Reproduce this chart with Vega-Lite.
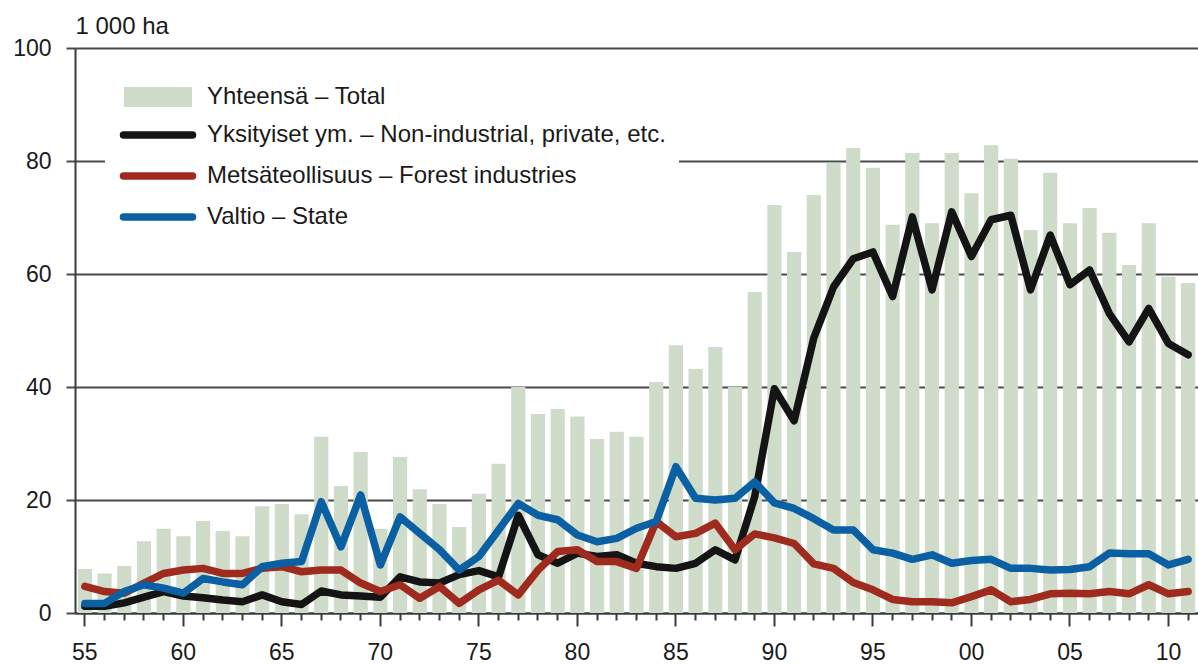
{
  "$schema": "https://vega.github.io/schema/vega-lite/v6.json",
  "width": 1123,
  "height": 565,
  "autosize": {"type": "none"},
  "padding": {"left": 75, "top": 48, "right": 0, "bottom": 53},
  "background": "white",
  "config": {
    "view": {"stroke": null},
    "font": "Liberation Sans"
  },
  "data": {
    "values": [
      {"year": 1955, "total": 7.8, "private": 1.2, "forest": 4.7, "state": 1.7},
      {"year": 1956, "total": 7.0, "private": 1.2, "forest": 3.8, "state": 1.7},
      {"year": 1957, "total": 8.3, "private": 1.8, "forest": 3.5, "state": 3.8},
      {"year": 1958, "total": 12.7, "private": 2.8, "forest": 5.3, "state": 5.0},
      {"year": 1959, "total": 14.9, "private": 3.8, "forest": 7.0, "state": 4.4},
      {"year": 1960, "total": 13.6, "private": 3.0, "forest": 7.6, "state": 3.5},
      {"year": 1961, "total": 16.3, "private": 2.7, "forest": 7.9, "state": 6.1},
      {"year": 1962, "total": 14.5, "private": 2.3, "forest": 7.0, "state": 5.5},
      {"year": 1963, "total": 13.6, "private": 2.0, "forest": 7.0, "state": 5.0},
      {"year": 1964, "total": 18.9, "private": 3.2, "forest": 7.9, "state": 8.2},
      {"year": 1965, "total": 19.3, "private": 2.0, "forest": 8.2, "state": 8.8},
      {"year": 1966, "total": 17.5, "private": 1.5, "forest": 7.3, "state": 9.1},
      {"year": 1967, "total": 31.2, "private": 3.9, "forest": 7.6, "state": 19.7},
      {"year": 1968, "total": 22.5, "private": 3.2, "forest": 7.6, "state": 11.7},
      {"year": 1969, "total": 28.5, "private": 3.0, "forest": 5.3, "state": 20.9},
      {"year": 1970, "total": 14.9, "private": 2.8, "forest": 3.8, "state": 8.5},
      {"year": 1971, "total": 27.6, "private": 6.4, "forest": 5.0, "state": 17.0},
      {"year": 1972, "total": 21.9, "private": 5.5, "forest": 2.6, "state": 14.1},
      {"year": 1973, "total": 19.3, "private": 5.3, "forest": 4.7, "state": 11.2},
      {"year": 1974, "total": 15.2, "private": 6.8, "forest": 1.7, "state": 7.6},
      {"year": 1975, "total": 21.1, "private": 7.5, "forest": 4.1, "state": 10.0},
      {"year": 1976, "total": 26.4, "private": 6.4, "forest": 5.8, "state": 14.7},
      {"year": 1977, "total": 40.0, "private": 17.3, "forest": 3.2, "state": 19.4},
      {"year": 1978, "total": 35.2, "private": 10.3, "forest": 7.6, "state": 17.3},
      {"year": 1979, "total": 36.1, "private": 8.8, "forest": 10.9, "state": 16.5},
      {"year": 1980, "total": 34.8, "private": 10.6, "forest": 11.2, "state": 13.8},
      {"year": 1981, "total": 30.8, "private": 10.0, "forest": 9.1, "state": 12.6},
      {"year": 1982, "total": 32.1, "private": 10.3, "forest": 9.1, "state": 13.2},
      {"year": 1983, "total": 31.2, "private": 8.8, "forest": 7.9, "state": 15.0},
      {"year": 1984, "total": 40.9, "private": 8.2, "forest": 16.2, "state": 16.2},
      {"year": 1985, "total": 47.4, "private": 7.9, "forest": 13.5, "state": 25.9},
      {"year": 1986, "total": 43.2, "private": 8.8, "forest": 14.1, "state": 20.3},
      {"year": 1987, "total": 47.1, "private": 11.2, "forest": 15.9, "state": 20.0},
      {"year": 1988, "total": 40.0, "private": 9.4, "forest": 11.2, "state": 20.3},
      {"year": 1989, "total": 56.8, "private": 20.6, "forest": 14.0, "state": 23.2},
      {"year": 1990, "total": 72.2, "private": 39.7, "forest": 13.3, "state": 19.5},
      {"year": 1991, "total": 63.9, "private": 34.0, "forest": 12.3, "state": 18.5},
      {"year": 1992, "total": 74.0, "private": 48.7, "forest": 8.7, "state": 16.7},
      {"year": 1993, "total": 79.7, "private": 57.7, "forest": 7.9, "state": 14.7},
      {"year": 1994, "total": 82.3, "private": 62.7, "forest": 5.4, "state": 14.7},
      {"year": 1995, "total": 78.8, "private": 63.9, "forest": 4.1, "state": 11.2},
      {"year": 1996, "total": 68.7, "private": 56.0, "forest": 2.4, "state": 10.6},
      {"year": 1997, "total": 81.4, "private": 70.1, "forest": 2.0, "state": 9.5},
      {"year": 1998, "total": 69.0, "private": 57.2, "forest": 2.0, "state": 10.3},
      {"year": 1999, "total": 81.4, "private": 71.0, "forest": 1.8, "state": 8.8},
      {"year": 2000, "total": 74.3, "private": 63.1, "forest": 2.9, "state": 9.3},
      {"year": 2001, "total": 82.8, "private": 69.6, "forest": 4.1, "state": 9.5},
      {"year": 2002, "total": 80.4, "private": 70.4, "forest": 2.0, "state": 7.9},
      {"year": 2003, "total": 67.8, "private": 57.2, "forest": 2.4, "state": 7.9},
      {"year": 2004, "total": 77.9, "private": 66.9, "forest": 3.4, "state": 7.6},
      {"year": 2005, "total": 69.0, "private": 58.1, "forest": 3.5, "state": 7.7},
      {"year": 2006, "total": 71.7, "private": 60.7, "forest": 3.4, "state": 8.2},
      {"year": 2007, "total": 67.3, "private": 53.0, "forest": 3.8, "state": 10.6},
      {"year": 2008, "total": 61.6, "private": 48.0, "forest": 3.4, "state": 10.5},
      {"year": 2009, "total": 69.0, "private": 53.9, "forest": 5.0, "state": 10.5},
      {"year": 2010, "total": 59.5, "private": 47.7, "forest": 3.4, "state": 8.5},
      {"year": 2011, "total": 58.4, "private": 45.7, "forest": 3.8, "state": 9.5}
    ]
  },
  "encoding": {
    "x": {
      "field": "year",
      "type": "ordinal",
      "scale": {"type": "band", "paddingInner": 0.28, "paddingOuter": 0.14},
      "axis": {
        "title": null,
        "domainColor": "#3a3a3a",
        "domainWidth": 2,
        "tickColor": "#3a3a3a",
        "tickWidth": 2,
        "tickSize": {"condition": {"test": "datum.value % 5 == 0", "value": 13}, "value": 7},
        "labelExpr": "datum.value % 5 == 0 ? substring('' + datum.value, 2, 4) : ''",
        "labelOverlap": false,
        "labelAngle": 0,
        "labelFont": "Liberation Sans",
        "labelFontSize": 23,
        "labelColor": "#1a1a1a",
        "labelPadding": 15,
        "labelBaseline": "top"
      }
    },
    "y": {
      "type": "quantitative",
      "scale": {"domain": [0, 100], "nice": false},
      "axis": {
        "title": "1 000 ha",
        "titleAngle": 0,
        "titleAlign": "left",
        "titleBaseline": "alphabetic",
        "titleX": 0,
        "titleY": -15,
        "titleFont": "Liberation Sans",
        "titleFontSize": 24,
        "titleFontWeight": "normal",
        "titleColor": "#1a1a1a",
        "values": [0, 20, 40, 60, 80, 100],
        "grid": true,
        "gridColor": "#4a4a4a",
        "gridWidth": 2,
        "domainColor": "#3a3a3a",
        "domainWidth": 2,
        "tickColor": "#4a4a4a",
        "tickWidth": 2,
        "tickSize": 9,
        "labelFont": "Liberation Sans",
        "labelFontSize": 23,
        "labelColor": "#1a1a1a",
        "labelPadding": 15
      }
    },
    "color": {
      "field": "series",
      "type": "nominal",
      "scale": {
        "domain": ["total", "private", "forest", "state"],
        "range": ["#cfdcca", "#141414", "#9e2b1e", "#0b5fa3"]
      },
      "legend": {
        "orient": "none",
        "legendX": 30,
        "legendY": 24,
        "direction": "vertical",
        "title": null,
        "fillColor": "white",
        "padding": 13,
        "symbolSize": 100,
        "symbolType": "M-6.8,-2H6.8V2H-6.8Z",
        "symbolOffset": 28,
        "rowPadding": 11,
        "labelOffset": 37,
        "labelFont": "Liberation Sans",
        "labelFontSize": 24,
        "labelColor": "#1a1a1a",
        "labelLimit": 700,
        "labelExpr": "datum.label == 'total' ? 'Yhteensä – Total' : datum.label == 'private' ? 'Yksityiset ym. – Non-industrial, private, etc.' : datum.label == 'forest' ? 'Metsäteollisuus – Forest industries' : 'Valtio – State'",
        "encode": {
          "symbols": {
            "update": {
              "shape": {"signal": "datum.value == 'total' ? 'M-6.8,-2H6.8V2H-6.8Z' : 'M-6.9,0H6.9'"},
              "fill": {"signal": "datum.value == 'total' ? '#cfdcca' : 'transparent'"},
              "stroke": {"signal": "datum.value == 'total' ? 'transparent' : datum.value == 'private' ? '#141414' : datum.value == 'forest' ? '#9e2b1e' : '#0b5fa3'"},
              "strokeWidth": {"signal": "datum.value == 'total' ? 0 : 7.5"},
              "strokeCap": {"value": "round"},
              "opacity": {"value": 1}
            }
          }
        }
      }
    }
  },
  "layer": [
    {
      "transform": [{"fold": ["total"], "as": ["series", "value"]}],
      "mark": {"type": "bar", "opacity": 1},
      "encoding": {
        "y": {"field": "value", "type": "quantitative"}
      }
    },
    {
      "transform": [{"fold": ["private", "forest", "state"], "as": ["series", "value"]}],
      "mark": {"type": "line", "strokeWidth": 7.5, "strokeJoin": "round", "strokeCap": "round"},
      "encoding": {
        "y": {"field": "value", "type": "quantitative"}
      }
    }
  ]
}
